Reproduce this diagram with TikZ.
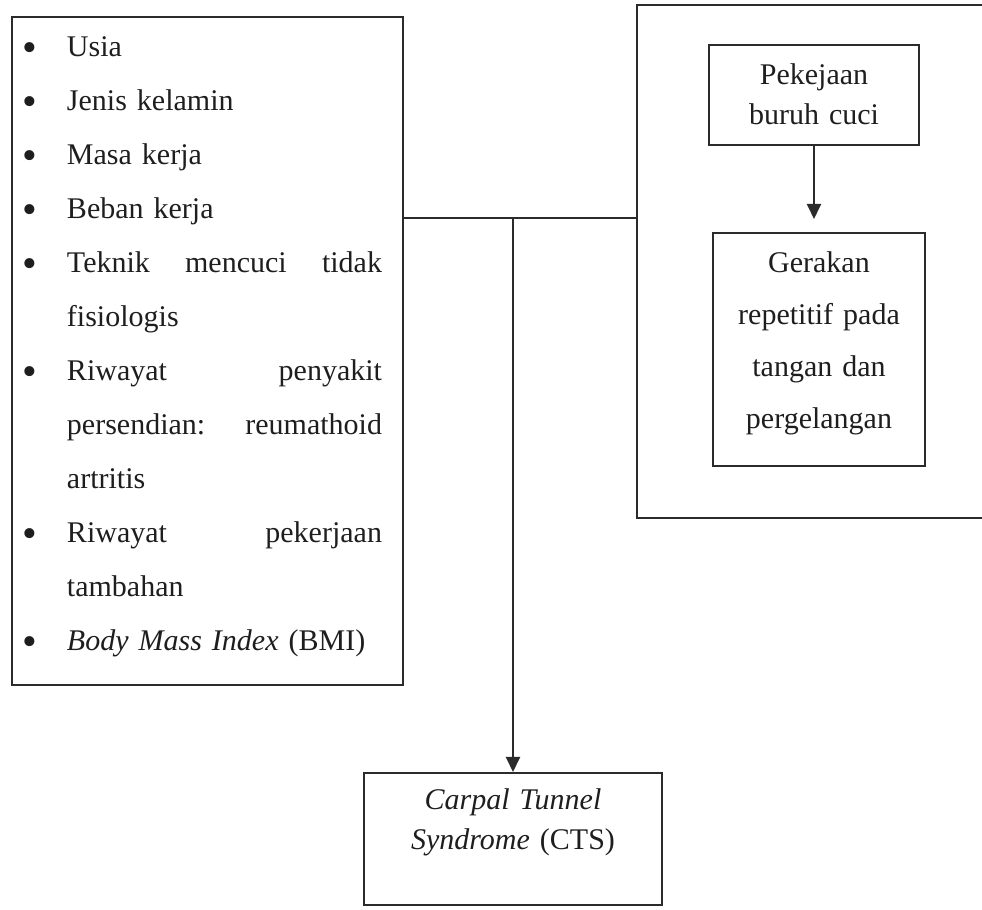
\documentclass[tikz,border=0pt]{standalone}
\usepackage{fontspec}
\setmainfont{Liberation Serif}
\usepackage{tikz}
\usetikzlibrary{arrows.meta}
\definecolor{Garis}{HTML}{2B2B2B}
\definecolor{Teks}{HTML}{1E1E1E}
\tikzstyle{kotak} = [
    draw=Garis,
    line width=1pt,
    inner sep=0pt,
    text=Teks
]
\tikzstyle{arrow} = [
    Garis,
    line width=1pt,
    -{Triangle[width=7pt,length=7.5pt]}
]
\newcommand{\butir}[1]{\noindent\hangindent=17pt\hangafter=1\hspace*{17pt}\llap{\raisebox{-0.15em}{\scalebox{1.4}{\textbullet}}\hspace{15pt}}#1\par}

\begin{document}
\begin{tikzpicture}[x=0.5pt, y=0.5pt]
    \clip (0,0) rectangle (982,910);
    % Faktor risiko
    \node[kotak, anchor=base, text width=174.5pt, minimum width=195.5pt, text height=20pt, text depth=314pt, font=\fontsize{15}{27}\selectfont] (faktor) at (207.5,853) {%
        \butir{Usia}
        \butir{Jenis kelamin}
        \butir{Masa kerja}
        \butir{Beban kerja}
        \butir{Teknik\hfill mencuci\hfill tidak\newline fisiologis}
        \butir{Riwayat\hfill penyakit\newline persendian:\hfill reumathoid\newline artritis}
        \butir{Riwayat\hfill pekerjaan\newline tambahan}
        \butir{\textit{Body Mass Index} (BMI)}};
    % Pekerjaan
    \node[kotak, minimum width=179pt, minimum height=256.5pt] (kerja) at (816,648.5) {};
    \node[kotak, anchor=base, align=center, text width=100pt, minimum width=105pt, text height=20pt, text depth=30pt, font=\fontsize{15}{20}\selectfont] (buruh) at (814,825) {Pekejaan\\ buruh cuci};
    \node[kotak, anchor=base, align=center, text width=100pt, minimum width=106pt, text height=20pt, text depth=96.5pt, font=\fontsize{15}{26}\selectfont] (gerak) at (819,637) {Gerakan\\ repetitif pada\\ tangan dan\\ pergelangan};
    % CTS
    \node[kotak, anchor=base, align=center, text width=140pt, minimum width=149pt, text height=18.5pt, text depth=47.5pt, font=\fontsize{15}{20}\selectfont] (cts) at (513,100) {\textit{Carpal Tunnel}\\ \textit{Syndrome} (CTS)};
    % Hubungan
    \coordinate (jn) at (513,692);
    \draw[Garis, line width=1pt] (jn -| faktor.east) -- (jn -| kerja.west);
    \draw[arrow] (jn) -- (cts.north);
    \draw[arrow, shorten >=6.5pt] (buruh.south) -- (buruh.south |- gerak.north);
\end{tikzpicture}
\end{document}
